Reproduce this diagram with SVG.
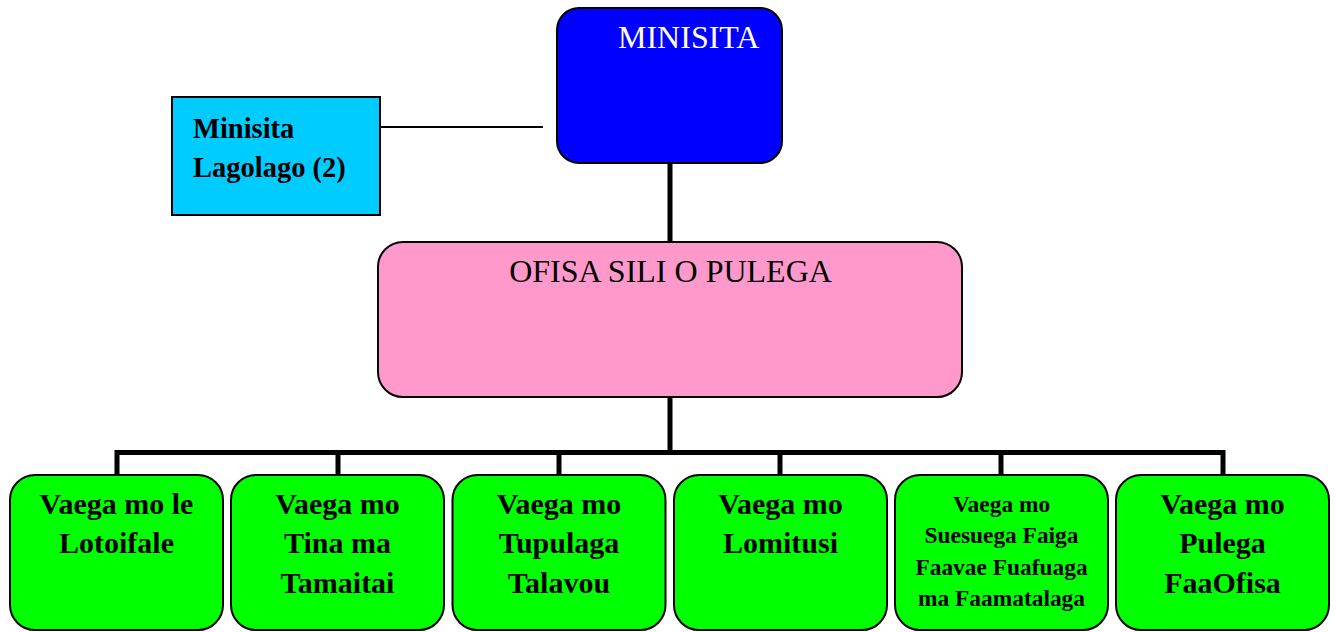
<svg xmlns="http://www.w3.org/2000/svg" width="1336" height="632" viewBox="0 0 1336 632">
<style>
.box{stroke:#000;stroke-width:2}
.conn{stroke:#000;stroke-width:5;fill:none}
.thin{stroke:#000;stroke-width:2;fill:none}
.tnr{font-family:"Liberation Serif","Times New Roman",serif;font-size:32px}
.gd{font-family:"Liberation Serif","Times New Roman",serif;font-weight:bold;font-size:30px;fill:#000}
.lg{font-size:28.5px}
.sm{font-size:23.4px}
.green{fill:#00FF00}
</style>
<rect width="1336" height="632" fill="#fff"/>
<g id="connectors">
<line class="thin" x1="380" y1="127" x2="543" y2="127"/>
<line class="conn" x1="670" y1="163" x2="670" y2="242"/>
<line class="conn" x1="670" y1="397" x2="670" y2="455"/>
<polyline class="conn" points="117,475 117,452.5 1223,452.5 1223,475"/>
<line class="conn" x1="338" y1="452" x2="338" y2="475"/>
<line class="conn" x1="559" y1="452" x2="559" y2="475"/>
<line class="conn" x1="780" y1="452" x2="780" y2="475"/>
<line class="conn" x1="1001" y1="452" x2="1001" y2="475"/>
</g>
<g id="minisita">
<rect class="box" x="557" y="8" width="225" height="155" rx="22" fill="#0000FF"/>
<text class="tnr" x="618" y="48" fill="#fff">MINISITA</text>
</g>
<g id="lagolago">
<rect class="box" x="172" y="97" width="208" height="118" fill="#00CCFF"/>
<text class="gd lg"><tspan x="193" y="138">Minisita</tspan><tspan x="193" y="177">Lagolago (2)</tspan></text>
</g>
<g id="ofisa">
<rect class="box" x="378" y="242" width="584" height="155" rx="25" fill="#FF99CC"/>
<text class="tnr" x="670.5" y="282" text-anchor="middle" fill="#000">OFISA SILI O PULEGA</text>
</g>
<g id="vaega1">
<rect class="box green" x="10" y="475" width="213" height="155" rx="25"/>
<text class="gd" text-anchor="middle"><tspan x="116.5" y="514">Vaega mo le</tspan><tspan x="116.5" y="553">Lotoifale</tspan></text>
</g>
<g id="vaega2">
<rect class="box green" x="231" y="475" width="213" height="155" rx="25"/>
<text class="gd" text-anchor="middle"><tspan x="337.5" y="514">Vaega mo</tspan><tspan x="337.5" y="553">Tina ma</tspan><tspan x="337.5" y="593">Tamaitai</tspan></text>
</g>
<g id="vaega3">
<rect class="box green" x="452.5" y="475" width="213" height="155" rx="25"/>
<text class="gd" text-anchor="middle"><tspan x="559" y="514">Vaega mo</tspan><tspan x="559" y="553">Tupulaga</tspan><tspan x="559" y="593">Talavou</tspan></text>
</g>
<g id="vaega4">
<rect class="box green" x="674" y="475" width="213" height="155" rx="25"/>
<text class="gd" text-anchor="middle"><tspan x="780.5" y="514">Vaega mo</tspan><tspan x="780.5" y="553">Lomitusi</tspan></text>
</g>
<g id="vaega5">
<rect class="box green" x="895" y="475" width="213" height="155" rx="25"/>
<text class="gd sm" text-anchor="middle"><tspan x="1001.5" y="512">Vaega mo</tspan><tspan x="1001.5" y="543">Suesuega Faiga</tspan><tspan x="1001.5" y="575">Faavae Fuafuaga</tspan><tspan x="1001.5" y="606">ma Faamatalaga</tspan></text>
</g>
<g id="vaega6">
<rect class="box green" x="1116" y="475" width="213" height="155" rx="25"/>
<text class="gd" text-anchor="middle"><tspan x="1222.5" y="514">Vaega mo</tspan><tspan x="1222.5" y="553">Pulega</tspan><tspan x="1222.5" y="593">FaaOfisa</tspan></text>
</g>
</svg>
